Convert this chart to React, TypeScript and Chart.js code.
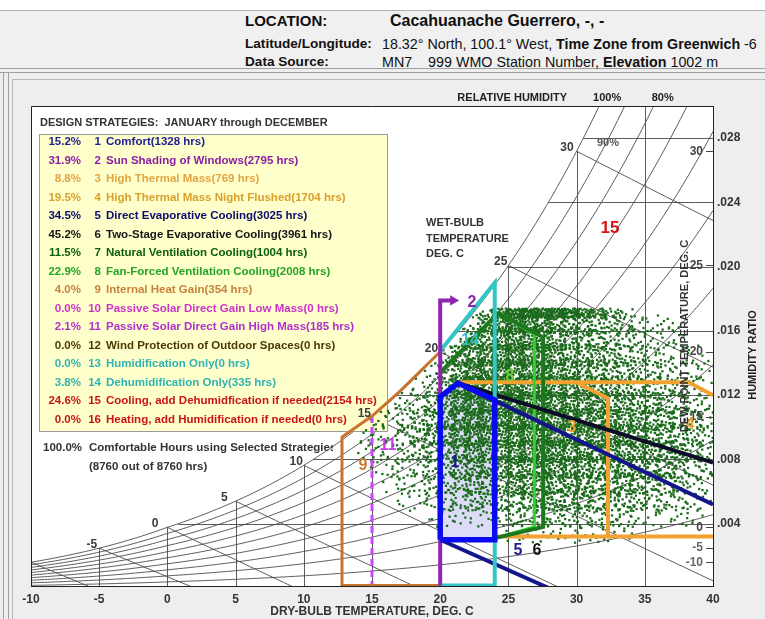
import React, { useEffect, useRef } from 'react';
import { Chart, registerables } from 'chart.js';

Chart.register(...registerables);

const FONT = "'Liberation Sans', Arial, Helvetica, sans-serif";
const NARROW = "'Liberation Sans Narrow', 'Liberation Sans', Arial, sans-serif";
const P_ATM = 101.325;

// ---------- axes ----------
const T_MIN = -10;
const T_MAX = 40;
const T_STEP = 5;
const W_MIN = 0.00012;
const W_MAX = 0.03;
const humidityRatioTicks = [0.004, 0.008, 0.012, 0.016, 0.02, 0.024, 0.028];

// ---------- psychrometric grid ----------
const rhLevels = [1.0, 0.9, 0.8, 0.7, 0.6, 0.5, 0.4, 0.3, 0.2, 0.1];
const dryBulbLines = [-5, 0, 5, 10, 15, 20, 25, 30, 35];
const wetBulbLines = [-10, -5, 0, 5, 10, 15, 20, 25, 30];
const wetBulbLabels = [-5, 0, 5, 10, 15, 20, 25, 30];
const wetBulbLabelShift = [-2, -9, -8, -1, -1, -2, -1, -3];
const dewPointLabels = [30, 25, 20, 15, 0, -5, -10];

// ---------- hourly climate cloud (hours per cell) ----------
const HOURS_PER_LEVEL = 7;
const scatterTemps = [14, 15, 16, 17, 18, 19, 20, 21, 22, 23, 24, 25, 26, 27, 28, 29, 30, 31, 32, 33, 34, 35, 36, 37, 38, 39];
const scatterWLow = [0.0168, 0.016, 0.015, 0.014, 0.013, 0.012, 0.011, 0.01, 0.009, 0.008, 0.007, 0.006, 0.005, 0.004, 0.003];
const scatterWHigh = [0.0174, 0.0168, 0.016, 0.015, 0.014, 0.013, 0.012, 0.011, 0.01, 0.009, 0.008, 0.007, 0.006, 0.005, 0.004];
const scatterLevels = [
  [0, 0, 0, 0, 0, 0, 0, 0, 0, 1, 4, 7, 8, 8, 7, 6, 5, 3, 2, 1, 0, 0, 0, 0, 0, 0],
  [0, 0, 0, 0, 0, 0, 0, 0, 2, 5, 7, 8, 7, 6, 5, 4, 3, 3, 2, 2, 1, 1, 1, 0, 0, 0],
  [0, 0, 0, 0, 0, 0, 0, 2, 4, 6, 7, 7, 7, 6, 5, 4, 4, 3, 3, 2, 2, 1, 1, 1, 0, 0],
  [0, 0, 0, 0, 0, 0, 2, 4, 6, 7, 7, 8, 7, 6, 5, 5, 4, 4, 3, 3, 2, 2, 1, 1, 1, 0],
  [0, 0, 0, 0, 0, 1, 3, 5, 7, 8, 8, 8, 7, 6, 6, 5, 5, 4, 4, 3, 3, 2, 2, 1, 1, 1],
  [0, 0, 0, 1, 1, 2, 4, 6, 8, 8, 8, 8, 7, 7, 6, 6, 5, 5, 4, 4, 3, 3, 2, 2, 1, 1],
  [0, 0, 1, 1, 2, 3, 5, 7, 8, 8, 8, 8, 8, 7, 7, 6, 6, 6, 5, 5, 4, 4, 3, 2, 2, 1],
  [0, 1, 1, 2, 3, 4, 5, 7, 8, 8, 8, 8, 8, 7, 7, 7, 6, 6, 6, 5, 5, 4, 4, 3, 2, 2],
  [1, 1, 1, 2, 3, 4, 5, 6, 7, 7, 7, 8, 8, 7, 7, 7, 7, 6, 6, 6, 5, 5, 4, 3, 3, 2],
  [1, 1, 1, 2, 2, 3, 4, 5, 6, 6, 6, 7, 7, 7, 7, 6, 6, 6, 6, 5, 5, 5, 4, 3, 2, 2],
  [0, 1, 1, 1, 2, 2, 3, 4, 5, 5, 5, 6, 6, 6, 6, 6, 5, 5, 5, 5, 5, 4, 4, 3, 2, 2],
  [0, 0, 1, 1, 1, 2, 2, 3, 4, 4, 4, 5, 5, 5, 5, 5, 5, 4, 4, 4, 4, 3, 3, 2, 2, 1],
  [0, 0, 0, 1, 1, 1, 2, 2, 3, 3, 3, 3, 4, 4, 4, 4, 4, 3, 3, 3, 3, 2, 2, 2, 1, 1],
  [0, 0, 0, 0, 0, 1, 1, 1, 1, 1, 2, 2, 2, 2, 2, 2, 2, 2, 2, 2, 1, 1, 1, 1, 1, 0],
  [0, 0, 0, 0, 0, 0, 0, 0, 0, 0, 0, 1, 1, 1, 1, 1, 1, 1, 1, 1, 0, 0, 0, 0, 0, 0],
];

// ---------- design strategy zones (dry-bulb °C, humidity ratio) ----------
const zone1T = [20, 20, 21.3, 24, 24, 20];
const zone1W = [0.003, 0.0119, 0.01275, 0.0117, 0.003, 0.003];
const zone2T = [20, 20, 20.95];
const zone2W = [0.00015, 0.0179, 0.0179];
const zone14T = [20, 24, 24, 20];
const zone14W = [0.01475, 0.019, 0.00015, 0.00015];
const zone5UpperT = [21.3, 40];
const zone5UpperW = [0.01275, 0.0052];
const zone5LowerT = [20, 28.2];
const zone5LowerW = [0.003, -0.0001];
const zone6T = [21.3, 40];
const zone6W = [0.01275, 0.0078];
const zone7T = [20, 24, 24.3, 27.55, 27.55, 24];
const zone7W = [0.0134, 0.0169, 0.0171, 0.0156, 0.0038, 0.0031];
const zone8T = [24.3, 26.9, 26.9, 24];
const zone8W = [0.0171, 0.0158, 0.0038, 0.0031];
const zone3T = [21.45, 30.0, 32.3, 32.3, 24];
const zone3W = [0.0128, 0.0128, 0.0118, 0.0032, 0.0032];
const zone4TopT = [30.0, 38.2, 40];
const zone4TopW = [0.0128, 0.0128, 0.012];
const zone4BottomT = [32.3, 40];
const zone4BottomW = [0.0032, 0.0032];
const zone9T = [20, 12.8, 12.8, 15, 17, 20];
const zone9W = [0.00015, 0.00015, 0.0094, 0.0107, 0.0122, 0.0147];
const zone11T = [15, 15];
const zone11W = [0.0107, 0.00015];

// zone number labels
const zoneLabelText = ['15', '14', '2', '1', '11', '9', '5', '6', '3', '4', '8'];
const zoneLabelT = [32.45, 22.19, 22.33, 21.08, 16.17, 14.34, 25.7, 27.1, 29.66, 38.31, 25.12];
const zoneLabelW = [0.0224, 0.01537, 0.01779, 0.00778, 0.00883, 0.00759, 0.0023, 0.0023, 0.00995, 0.01014, 0.01313];
const zoneLabelColor = ['#d41414', '#30c0c0', '#8e24aa', '#1a1a8c', '#c23ce6', '#c8782f', '#1a1a8c', '#111111', '#eba030', '#eba030', '#6fcf3a'];

// ---------- legend ----------
const strategyPercent = ['15.2%', '31.9%', '8.8%', '19.5%', '34.5%', '45.2%', '11.5%', '22.9%', '4.0%', '0.0%', '2.1%', '0.0%', '0.0%', '3.8%', '24.6%', '0.0%'];
const strategyName = [
  'Comfort(1328 hrs)',
  'Sun Shading of Windows(2795 hrs)',
  'High Thermal Mass(769 hrs)',
  'High Thermal Mass Night Flushed(1704 hrs)',
  'Direct Evaporative Cooling(3025 hrs)',
  'Two-Stage Evaporative Cooling(3961 hrs)',
  'Natural Ventilation Cooling(1004 hrs)',
  'Fan-Forced Ventilation Cooling(2008 hrs)',
  'Internal Heat Gain(354 hrs)',
  'Passive Solar Direct Gain Low Mass(0 hrs)',
  'Passive Solar Direct Gain High Mass(185 hrs)',
  'Wind Protection of Outdoor Spaces(0 hrs)',
  'Humidification Only(0 hrs)',
  'Dehumidification Only(335 hrs)',
  'Cooling, add Dehumidfication if needed(2154 hrs)',
  'Heating, add Humidification if needed(0 hrs)',
];
const strategyColor = ['#1e1e96', '#8b1fa3', '#e3a544', '#d9a02c', '#0c0c6e', '#161616', '#0b5e0b', '#25a525', '#c8823f', '#cc33cc', '#b02fd0', '#4a3b00', '#2fb3b3', '#2fb3b3', '#c81414', '#c81414'];

// ---------- psychrometrics ----------
function pws(T: number): number {
  if (T >= 0) return 0.61078 * Math.exp((17.27 * T) / (T + 237.3));
  return 0.61115 * Math.exp((22.452 * T) / (272.55 + T));
}
function wAt(T: number, rh: number): number {
  const p = rh * pws(T);
  return (0.622 * p) / (P_ATM - p);
}
function wWetBulb(T: number, twb: number): number {
  const ws = wAt(twb, 1);
  if (twb >= 0) return ((2501 - 2.326 * twb) * ws - 1.006 * (T - twb)) / (2501 + 1.86 * T - 4.186 * twb);
  return ((2830 - 0.24 * twb) * ws - 1.006 * (T - twb)) / (2830 + 1.86 * T - 2.1 * twb);
}
function tFor(w: number, rh: number): number {
  let lo = -40, hi = 80;
  for (let i = 0; i < 60; i++) {
    const mid = (lo + hi) / 2;
    if (wAt(mid, rh) > w) hi = mid; else lo = mid;
  }
  return (lo + hi) / 2;
}
// low-discrepancy (Halton) placement of the counted hours inside each cell
function halton(i: number, b: number): number {
  let f = 1, r = 0;
  while (i > 0) {
    f /= b;
    r += f * (i % b);
    i = Math.floor(i / b);
  }
  return r;
}

function buildCloud() {
  const pts: { x: number; y: number }[] = [];
  let g = 1;
  scatterLevels.forEach((row, r) => {
    const wLo = scatterWLow[r];
    const wHi = scatterWHigh[r];
    const top = r === 0;
    row.forEach((lvl, c) => {
      const n = lvl * HOURS_PER_LEVEL;
      const t0 = scatterTemps[c];
      for (let k = 0; k < n; k++, g++) {
        const u = halton(g, 2);
        const v = halton(g, 3);
        const t = t0 - 0.25 + u * 1.5;
        const w = top ? wLo + v * (wHi - wLo) : wLo - 0.0002 + v * (wHi - wLo + 0.0004);
        if (t > T_MAX || w > wAt(t, 1) * 0.995) continue;
        pts.push({ x: t, y: w });
      }
    });
  });
  return pts;
}

const pairs = (ts: number[], ws: number[]) => ts.map((t, i) => ({ x: t, y: ws[i] }));

function zone(ts: number[], ws: number[], color: string, width: number, order: number, extra: any = {}) {
  return {
    data: pairs(ts, ws),
    showLine: true,
    borderColor: color,
    backgroundColor: color,
    borderWidth: width,
    pointRadius: 0,
    fill: false,
    tension: 0,
    order,
    borderJoinStyle: 'miter',
    ...extra,
  };
}

const gridPlugin = {
  id: 'psychroGrid',
  beforeDraw(chart: any) {
    const { ctx, chartArea: a } = chart;
    ctx.save();
    ctx.fillStyle = '#ffffff';
    ctx.fillRect(a.left, a.top, a.right - a.left, a.bottom - a.top);
    ctx.restore();
  },
  beforeDatasetsDraw(chart: any) {
    const { ctx, chartArea: a, scales } = chart;
    const X = (t: number) => scales.x.getPixelForValue(t);
    const Y = (w: number) => scales.y.getPixelForValue(w);
    ctx.save();
    ctx.beginPath();
    ctx.rect(a.left, a.top, a.right - a.left, a.bottom - a.top);
    ctx.clip();
    ctx.strokeStyle = '#4a4a4a';
    ctx.lineWidth = 0.9;
    rhLevels.forEach((rh) => {
      ctx.beginPath();
      for (let t = T_MIN; t <= T_MAX + 0.001; t += 0.2) {
        const w = wAt(t, rh);
        if (t === T_MIN) ctx.moveTo(X(t), Y(w)); else ctx.lineTo(X(t), Y(w));
        if (w > W_MAX + 0.001) break;
      }
      ctx.stroke();
    });
    dryBulbLines.forEach((t) => {
      const top = Math.min(wAt(t, 1), W_MAX);
      ctx.beginPath();
      ctx.moveTo(Math.round(X(t)) + 0.5, Y(W_MIN));
      ctx.lineTo(Math.round(X(t)) + 0.5, Y(top));
      ctx.stroke();
    });
    humidityRatioTicks.forEach((w) => {
      const t0 = tFor(w, 1);
      ctx.beginPath();
      ctx.moveTo(X(t0), Math.round(Y(w)) + 0.5);
      ctx.lineTo(X(T_MAX), Math.round(Y(w)) + 0.5);
      ctx.stroke();
    });
    wetBulbLines.forEach((twb) => {
      ctx.beginPath();
      ctx.moveTo(X(twb), Y(wAt(twb, 1)));
      for (let t = twb; t <= T_MAX + 0.001; t += 0.5) {
        const w = wWetBulb(t, twb);
        ctx.lineTo(X(t), Y(w));
        if (w < 0) break;
      }
      ctx.stroke();
    });
    ctx.restore();

    ctx.save();
    ctx.fillStyle = '#ffffcc';
    ctx.fillRect(39, 134, 348, 297);
    ctx.strokeStyle = '#9a9a9a';
    ctx.lineWidth = 1;
    ctx.strokeRect(39.5, 134.5, 348, 297);
    ctx.restore();
  },
  afterDatasetsDraw(chart: any) {
    const { ctx, chartArea: a, scales } = chart;
    const X = (t: number) => scales.x.getPixelForValue(t);
    const Y = (w: number) => scales.y.getPixelForValue(w);
    ctx.save();
    ctx.strokeStyle = '#222';
    ctx.lineWidth = 1;
    ctx.beginPath();
    ctx.moveTo(a.left + 0.5, a.bottom);
    ctx.lineTo(a.left + 0.5, a.top + 0.5);
    ctx.lineTo(a.right, a.top + 0.5);
    ctx.stroke();

    ctx.font = `bold 12px ${FONT}`;
    ctx.fillStyle = '#3a3a3a';
    ctx.textAlign = 'right';
    ctx.textBaseline = 'alphabetic';
    wetBulbLabels.forEach((t, i) => {
      ctx.fillText(String(t), X(t) + wetBulbLabelShift[i], Y(wAt(t, 1)));
    });

    ctx.textBaseline = 'middle';
    dewPointLabels.forEach((t) => {
      const y = Y(wAt(t, 1));
      ctx.fillStyle = t < 0 ? '#666' : '#444';
      ctx.fillText(String(t), a.right - 10, y);
      ctx.strokeStyle = '#444';
      ctx.beginPath();
      ctx.moveTo(a.right - 7, Math.round(y) + 0.5);
      ctx.lineTo(a.right, Math.round(y) + 0.5);
      ctx.stroke();
    });

    ctx.fillStyle = '#222';
    ctx.font = `bold 11px ${NARROW}`;
    ctx.textBaseline = 'middle';
    const x100 = X(tFor(W_MAX, 1));
    const x80 = X(tFor(W_MAX, 0.8));
    ctx.textAlign = 'right';
    ctx.fillText('RELATIVE HUMIDITY', x100 - 32, a.top - 8);
    ctx.textAlign = 'center';
    ctx.fillText('100%', x100 + 8, a.top - 8);
    ctx.fillText('80%', x80 + 9, a.top - 8);
    ctx.fillStyle = '#555';
    ctx.fillText('90%', X(32.3), Y(0.02768));

    ctx.fillStyle = '#333';
    ctx.textAlign = 'left';
    ctx.font = `bold 11px ${FONT}`;
    ctx.fillText('WET-BULB', X(18.96), Y(0.0227));
    ctx.fillText('TEMPERATURE', X(18.96), Y(0.0217));
    ctx.fillText('DEG. C', X(18.96), Y(0.0208));

    ctx.textAlign = 'center';
    ctx.textBaseline = 'middle';
    zoneLabelText.forEach((s, i) => {
      ctx.font = `bold ${s === '15' ? 17 : 16}px ${FONT}`;
      ctx.fillStyle = zoneLabelColor[i];
      ctx.fillText(s, X(zoneLabelT[i]), Y(zoneLabelW[i]));
    });

    ctx.fillStyle = '#333';
    ctx.font = `bold 11px ${FONT}`;
    ctx.save();
    ctx.translate(a.right - 28, 336);
    ctx.rotate(-Math.PI / 2);
    ctx.fillText('DEW POINT TEMPERATURE, DEG. C', 0, 0);
    ctx.restore();
    ctx.save();
    ctx.fillStyle = '#222';
    ctx.font = `bold 11px ${NARROW}`;
    ctx.translate(a.right + 40, 355);
    ctx.rotate(-Math.PI / 2);
    ctx.fillText('HUMIDITY RATIO', 0, 0);
    ctx.restore();
    ctx.restore();
  },
};

export default function App() {
  const ref = useRef<HTMLCanvasElement>(null);
  useEffect(() => {
    const cloud = buildCloud();
    const datasets: any[] = [
      zone(zone1T, zone1W, '#0a0af0', 5.5, 1),
      zone(zone2T, zone2W, '#8e24b0', 4, 2, {
        pointRadius: [0, 0, 6],
        pointStyle: 'triangle',
        rotation: 90,
        pointBorderWidth: 0,
        pointBackgroundColor: '#8e24b0',
      }),
      zone(zone14T, zone14W, '#33c6c6', 4, 3),
      zone(zone6T, zone6W, '#0c0c26', 4, 4),
      zone(zone5UpperT, zone5UpperW, '#14148c', 4, 5),
      zone(zone5LowerT, zone5LowerW, '#14148c', 4, 5),
      zone(zone7T, zone7W, '#1c781c', 4, 6),
      zone(zone8T, zone8W, '#33d033', 3, 7),
      zone(zone3T, zone3W, '#f2a230', 4, 8),
      zone(zone4TopT, zone4TopW, '#f2a230', 4, 8),
      zone(zone4BottomT, zone4BottomW, '#f2a230', 4, 8),
      zone(zone9T, zone9W, '#c8742f', 3, 9),
      zone(zone11T, zone11W, '#cc44ff', 3, 10, { borderDash: [7, 4] }),
      {
        data: cloud,
        showLine: false,
        pointStyle: 'rect',
        pointRadius: 1.6,
        pointBorderWidth: 0,
        pointBackgroundColor: '#1c6a1c',
        backgroundColor: '#1c6a1c',
        order: 50,
      },
      {
        data: pairs(zone1T, zone1W),
        showLine: true,
        borderWidth: 0,
        borderColor: 'rgba(0,0,0,0)',
        backgroundColor: '#dcdcf6',
        pointRadius: 0,
        fill: 'shape',
        order: 60,
      },
    ];
    const tickFont = { family: FONT, size: 12, weight: 'bold' as const };
    const chart = new Chart(ref.current as HTMLCanvasElement, {
      type: 'scatter',
      data: { datasets },
      options: {
        animation: false,
        responsive: false,
        events: [],
        layout: { padding: { left: 31, top: 106, right: 0, bottom: 0 } },
        plugins: { legend: { display: false }, tooltip: { enabled: false } },
        scales: {
          x: {
            type: 'linear',
            min: T_MIN,
            max: T_MAX,
            position: 'bottom',
            ticks: { stepSize: T_STEP, font: tickFont, color: '#333', padding: 6, maxRotation: 0, autoSkip: false },
            grid: { display: false, drawTicks: false },
            border: { display: true, color: '#222' },
            title: {
              display: true,
              text: 'DRY-BULB TEMPERATURE, DEG. C',
              font: tickFont,
              color: '#333',
              padding: { top: 0, bottom: 0 },
            },
            afterFit: (s: any) => {
              s.height = 33;
            },
          },
          y: {
            type: 'linear',
            position: 'right',
            min: W_MIN,
            max: W_MAX,
            afterBuildTicks: (s: any) => {
              s.ticks = humidityRatioTicks.map((v) => ({ value: v }));
            },
            ticks: {
              font: tickFont,
              color: '#333',
              padding: 4,
              callback: (v: any) => Number(v).toFixed(3).replace(/^0/, ''),
            },
            grid: { display: false, drawTicks: false },
            border: { display: true, color: '#222' },
            afterFit: (s: any) => {
              s.width = 52;
            },
          },
        },
      } as any,
      plugins: [gridPlugin],
    });
    return () => chart.destroy();
  }, []);

  const abs = (left: number, top: number, extra: React.CSSProperties = {}): React.CSSProperties => ({
    position: 'absolute',
    left,
    top,
    whiteSpace: 'pre',
    ...extra,
  });
  const line = (left: number, top: number, width: number, height: number, color = '#a8a8a8'): React.CSSProperties => ({
    position: 'absolute',
    left,
    top,
    width,
    height,
    background: color,
  });
  const lg: React.CSSProperties = { fontFamily: FONT, fontSize: 11, fontWeight: 'bold', lineHeight: '14px' };
  const row: React.CSSProperties = { ...lg, fontSize: 11.5 };

  return (
    <div style={{ position: 'fixed', left: 0, top: 0, width: 765, height: 619, background: '#eeeeee', overflow: 'hidden', fontFamily: FONT }}>
      <div style={line(0, 0, 765, 10, '#ffffff')} />
      <div style={line(0, 10, 765, 1, '#b0b0b0')} />
      <div style={line(0, 11, 765, 57, '#f0f0f0')} />
      <div style={line(0, 68, 765, 1, '#a0a0a0')} />
      <div style={line(0, 72, 765, 1, '#a0a0a0')} />
      <div style={line(3, 72, 1, 547, '#a0a0a0')} />
      <div style={line(8, 72, 1, 547, '#a0a0a0')} />
      <div style={line(12, 79, 1, 540, '#b8b8b8')} />
      <div style={line(12, 79, 753, 1, '#b8b8b8')} />
      <div style={abs(245, 12, { fontSize: 15, fontWeight: 'bold', color: '#111', lineHeight: '18px' })}>LOCATION:</div>
      <div style={abs(390, 12, { fontSize: 16, fontWeight: 'bold', color: '#111', lineHeight: '18px' })}>Cacahuanache Guerrero, -, -</div>
      <div style={abs(245, 36, { fontSize: 13.6, fontWeight: 'bold', color: '#111', lineHeight: '16px' })}>Latitude/Longitude:</div>
      <div style={abs(382, 36, { fontSize: 14.3, color: '#111', lineHeight: '16px' })}>
        18.32° North, 100.1° West, <b>Time Zone from Greenwich</b> -6
      </div>
      <div style={abs(245, 54, { fontSize: 13.6, fontWeight: 'bold', color: '#111', lineHeight: '16px' })}>Data Source:</div>
      <div style={abs(382, 54, { fontSize: 14.3, color: '#111', lineHeight: '16px' })}>
        {'MN7    999 WMO Station Number, '}
        <b>Elevation</b> 1002 m
      </div>

      <canvas ref={ref} width={765} height={619} style={{ position: 'absolute', left: 0, top: 0, width: 765, height: 619 }} />

      <div style={abs(40, 115, { ...lg, color: '#333' })}>{'DESIGN STRATEGIES:  JANUARY through DECEMBER'}</div>
      {strategyName.map((name, i) => (
        <div key={i} style={{ ...row, position: 'absolute', left: 0, top: 134 + 18.5 * i, color: strategyColor[i] }}>
          <span style={{ position: 'absolute', left: 36, width: 45, textAlign: 'right' }}>{strategyPercent[i]}</span>
          <span style={{ position: 'absolute', left: 84, width: 17, textAlign: 'right' }}>{String(i + 1)}</span>
          <span style={{ position: 'absolute', left: 106, whiteSpace: 'pre' }}>{name}</span>
        </div>
      ))}
      <div style={abs(43, 440, { ...row, color: '#333' })}>100.0%</div>
      <div style={abs(89, 440, { ...row, color: '#333', width: 244, overflow: 'hidden' })}>Comfortable Hours using Selected Strategies</div>
      <div style={abs(89, 459, { ...row, color: '#333' })}>(8760 out of 8760 hrs)</div>
    </div>
  );
}
